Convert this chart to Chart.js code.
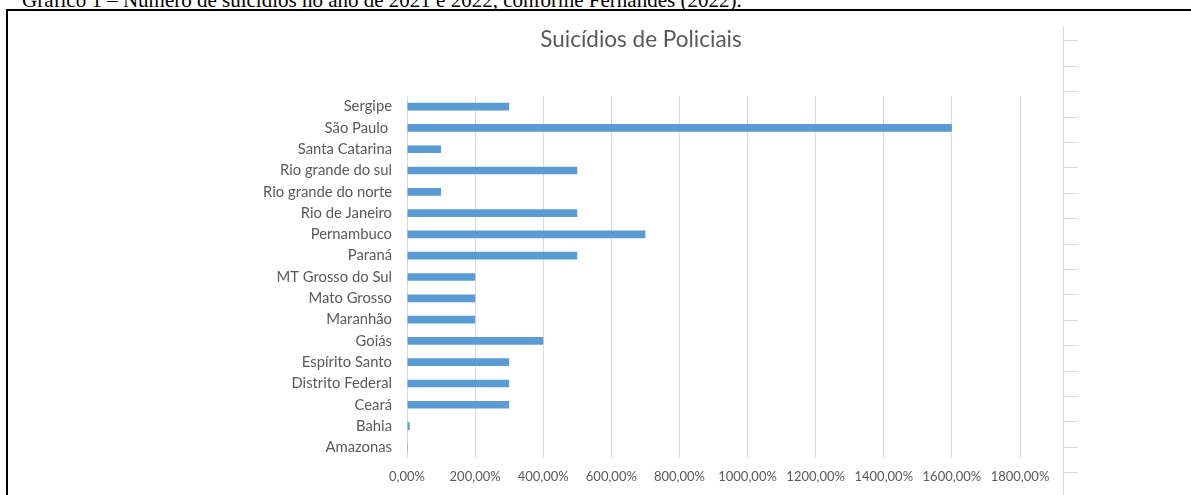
<!DOCTYPE html>
<html><head><meta charset="utf-8">
<script src="https://cdn.jsdelivr.net/npm/chart.js@4/dist/chart.umd.min.js"></script>
<style>
html,body{margin:0;padding:0;background:#fff;overflow:hidden;width:1191px;height:495px;position:relative;}
#cap{position:absolute;left:22px;top:-10px;font-family:"Liberation Serif";font-size:21px;line-height:21px;white-space:nowrap;color:#000;}
#frame{position:absolute;left:6px;top:9px;width:1300px;height:600px;border-left:2px solid #000;border-top:2px solid #000;background:#fff;}
#vline{position:absolute;left:1063px;top:26px;width:1px;height:470px;background:#d9d9d9;}
#ticks{position:absolute;left:1064px;top:15.6px;width:14px;height:458px;background:repeating-linear-gradient(to bottom,transparent 0,transparent 24.4px,#d9d9d9 24.4px,#d9d9d9 25.4px);}
#c{position:absolute;left:91px;top:0;}
</style></head>
<body>
<div id="cap">Gráfico 1 – Número de suicídios no ano de 2021 e 2022, conforme Fernandes (2022).</div>
<div id="frame"></div>
<div id="vline"></div>
<div id="ticks"></div>
<canvas id="c" width="1100" height="495"></canvas>
<script>
const chartTitle = "Suicídios de Policiais";
const categories = ["Sergipe","São Paulo ","Santa Catarina","Rio grande do sul","Rio grande do norte","Rio de Janeiro","Pernambuco","Paraná","MT Grosso do Sul","Mato Grosso","Maranhão","Goiás","Espírito Santo","Distrito Federal","Ceará","Bahia","Amazonas"];
const values = [300,1600,100,500,100,500,700,500,200,200,200,400,300,300,300,8,3];
const axisMin = 0, axisMax = 1800, axisStep = 200;

const textColor = "#595959";
const fontFam = "Lato";
new Chart(document.getElementById("c"), {
  type: "bar",
  data: { labels: categories, datasets: [{ data: values, backgroundColor: "#5B9BD5", borderWidth: 0, categoryPercentage: 1, barPercentage: 0.36 }] },
  options: {
    indexAxis: "y", responsive: false, animation: false, devicePixelRatio: 1,
    layout: { padding: 0 },
    plugins: {
      legend: { display: false }, tooltip: { enabled: false },
      title: { display: true, text: chartTitle, color: textColor, font: { family: fontFam, size: 22.5, weight: "normal" }, padding: { top: 26, bottom: 43 } }
    },
    scales: {
      x: {
        min: axisMin, max: axisMax,
        grid: { color: "#d9d9d9", drawTicks: false, tickLength: 0 },
        border: { display: false },
        ticks: { stepSize: axisStep, padding: 11, color: textColor, font: { family: fontFam, size: 13 }, maxRotation: 0,
          callback: v => v.toFixed(2).replace(".", ",") + "%" },
        afterFit: s => { s.height = 37; }
      },
      y: {
        grid: { display: false, drawTicks: false },
        border: { display: false },
        ticks: { padding: 15, color: textColor, font: { family: fontFam, size: 14.8 }, autoSkip: false },
        afterFit: s => { s.width = 316; }
      },
      yr: {
        type: "linear", position: "right", display: true,
        grid: { display: false, drawTicks: false }, border: { display: false },
        ticks: { display: false },
        afterFit: s => { s.width = 171; }
      }
    }
  }
});
</script>
</body></html>
